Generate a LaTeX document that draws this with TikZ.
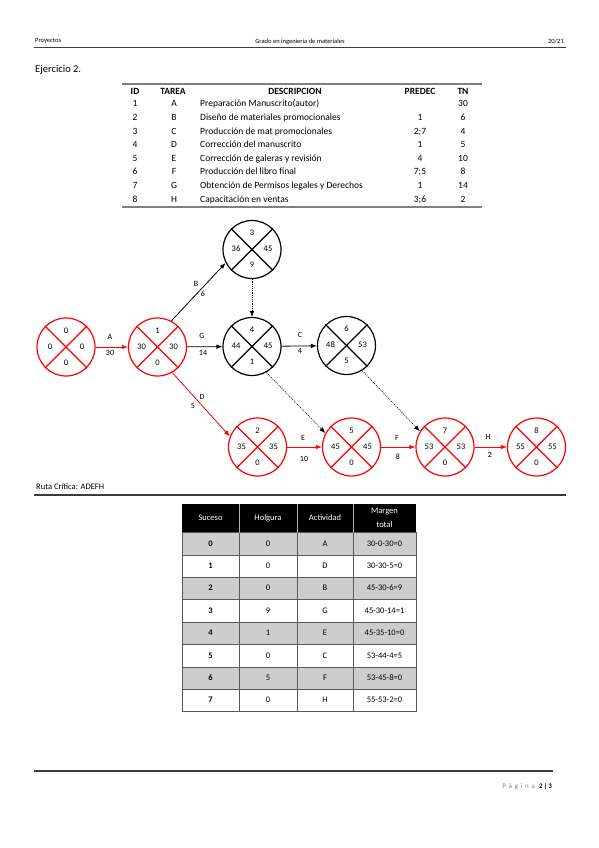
\documentclass[tikz,border=0pt]{standalone}
\usepackage{fontspec}
\setmainfont{Carlito}
\usetikzlibrary{arrows.meta}
\definecolor{ered}{RGB}{255,0,0}
\definecolor{rowgray}{RGB}{205,205,205}
\definecolor{rulegray}{RGB}{60,60,60}
\newcommand\evnode[8]{%
  \node[ev,draw=#4] (#1) at (#2,#3) {};
  \draw[#4,line width=1.2pt] (#1.45) -- (#1.225) (#1.135) -- (#1.315);
  \node[val] (#1t) at ([yshift=16pt]#1.center) {#5};
  \node[val] (#1l) at ([xshift=-16pt]#1.center) {#6};
  \node[val] (#1r) at ([xshift=16pt]#1.center) {#7};
  \node[val] (#1b) at ([yshift=-16pt]#1.center) {#8};
}
\begin{document}
\begin{tikzpicture}[x=1pt,y=-1pt,
  ev/.style={circle,line width=1.2pt,minimum size=58pt,inner sep=0pt},
  val/.style={font=\fontsize{8.5}{9}\selectfont,inner sep=0pt,anchor=mid},
  elab/.style={font=\fontsize{8}{9}\selectfont,inner sep=0pt,anchor=mid},
  act/.style={line width=0.8pt,-{Latex[length=6pt,width=4.5pt]}},
  dum/.style={line width=0.5pt,dash pattern=on 1.2pt off 1pt,-{Latex[length=6pt,width=4.5pt]}},
  ttext/.style={font=\fontsize{9.5}{11}\selectfont,inner sep=0pt,anchor=mid},
  thead/.style={font=\bfseries\fontsize{9.5}{11}\selectfont,inner sep=0pt,anchor=mid},
  btext/.style={font=\fontsize{8.5}{10}\selectfont,inner sep=0pt,anchor=mid},
  hdtext/.style={font=\fontsize{6.5}{8}\selectfont,inner sep=0pt,anchor=mid}
]
\useasboundingbox[fill=white] (0,0) rectangle (599,848);

% ---------- page header ----------
\node[hdtext,anchor=west] (hproj) at (35,41) {Proyectos};
\node[hdtext] (hgrado) at (300,41) {Grado en ingeniería de materiales};
\node[hdtext,anchor=east] (hyear) at (564,41) {20/21};
\coordinate (hl1) at (34,47.5);
\coordinate (hl2) at (566,47.5);
\draw[line width=1.6pt,rulegray] (hl1) -- (hl2);

\node[font=\fontsize{10.5}{12}\selectfont,inner sep=0pt,anchor=west] (ejer) at (35,70) {Ejercicio 2.};

% ---------- top table ----------
\coordinate (tr1) at (122,84);
\coordinate (tr2) at (482,84);
\coordinate (br1) at (122,207);
\coordinate (br2) at (482,207);
\draw[line width=1.3pt,gray] (tr1) -- (tr2);
\draw[line width=1.3pt,gray] (br1) -- (br2);
\node[thead] (hid) at (135,92) {ID};
\node[thead] (hta) at (173,92) {TAREA};
\node[thead] (hde) at (295,92) {DESCRIPCION};
\node[thead] (hpr) at (420,92) {PREDEC};
\node[thead] (htn) at (463,92) {TN};
\foreach \id/\ta/\de/\pr/\tn [count=\i from 0] in {
  1/A/{Preparación Manuscrito(autor)}/{}/30,
  2/B/{Diseño de materiales promocionales}/1/6,
  3/C/{Producción de mat promocionales}/{2;7}/4,
  4/D/{Corrección del manuscrito}/1/5,
  5/E/{Corrección de galeras y revisión}/4/10,
  6/F/{Producción del libro final}/{7;5}/8,
  7/G/{Obtención de Permisos legales y Derechos}/1/14,
  8/H/{Capacitación en ventas}/{3;6}/2}{
  \pgfmathsetmacro\yy{104.5+\i*13.6}
  \node[ttext] (tid\i) at (135,\yy) {\id};
  \node[ttext] (tta\i) at (174,\yy) {\ta};
  \node[ttext,anchor=mid west] (tde\i) at (200,\yy) {\de};
  \node[ttext] (tpr\i) at (420,\yy) {\pr};
  \node[ttext] (ttn\i) at (463,\yy) {\tn};
}

% ---------- network ----------
\evnode{n0}{66}{347}{ered}{0}{0}{0}{0}
\evnode{n1}{157.5}{347}{ered}{1}{30}{30}{0}
\evnode{n3}{252}{249.5}{black}{3}{36}{45}{9}
\evnode{n4}{252}{346.5}{black}{4}{44}{45}{1}
\evnode{n6}{346.5}{345.5}{black}{6}{48}{53}{5}
\evnode{n2}{257.5}{447}{ered}{2}{35}{35}{0}
\evnode{n5}{351.5}{447}{ered}{5}{45}{45}{0}
\evnode{n7}{445}{447}{ered}{7}{53}{53}{0}
\evnode{n8}{536.5}{447}{ered}{8}{55}{55}{0}

% activities
\draw[act,ered] (n0) -- (n1);
\node[elab] (lA) at (110,337) {A};
\node[elab] (lA2) at (110,353) {30};

\draw[act] (n1.62) -- (n3.207);
\node[elab] (lB) at (196,284) {B};
\node[elab] (lB2) at (203,294) {6};

\draw[act] (n1) -- (n4);
\node[elab] (lG) at (202,336) {G};
\node[elab] (lG2) at (203,353) {14};

\draw[act] (n4) -- (n6);
\node[elab] (lC) at (300,335) {C};
\node[elab] (lC2) at (300,351) {4};

\draw[act,ered] (n1.-60) -- (n2.159);
\node[elab] (lD) at (202,397) {D};
\node[elab] (lD2) at (193,406) {5};

\draw[act,ered] (n2) -- (n5);
\node[elab] (lE) at (303,438) {E};
\node[elab] (lE2) at (304,459) {10};

\draw[act,ered] (n5) -- (n7);
\node[elab] (lF) at (397,438) {F};
\node[elab] (lF2) at (398,457) {8};

\draw[act,ered] (n7) -- (n8);
\node[elab] (lH) at (488,437) {H};
\node[elab] (lH2) at (490,455) {2};

% dummies
\draw[dum] (n3) -- (n4);
\draw[dum] (n4.-61) -- (n5.152);
\draw[dum] (n6.-58) -- (n7.148);

% ---------- critical path ----------
\node[font=\fontsize{8.5}{10}\selectfont,inner sep=0pt,anchor=mid west] (ruta) at (36,487) {Ruta Crítica: ADEFH};
\coordinate (rl1) at (34,494.5);
\coordinate (rl2) at (566,494.5);
\draw[line width=2pt,rulegray] (rl1) -- (rl2);

% ---------- bottom table ----------
\fill[black] (182,504) rectangle (416,532.5);
\node[btext,text=white] (bh1) at (210.5,518.5) {Suceso};
\node[btext,text=white] (bh2) at (268,518.5) {Holgura};
\node[btext,text=white] (bh3) at (325,518.5) {Actividad};
\node[btext,text=white] (bh4a) at (384.5,511.5) {Margen};
\node[btext,text=white] (bh4b) at (384.5,525.5) {total};
\foreach \s/\h/\a/\m [count=\i from 0] in {
  0/0/A/30-0-30=0, 1/0/D/30-30-5=0, 2/0/B/45-30-6=9, 3/9/G/45-30-14=1,
  4/1/E/45-35-10=0, 5/0/C/53-44-4=5, 6/5/F/53-45-8=0, 7/0/H/55-53-2=0}{
  \pgfmathsetmacro\yt{532.5+\i*22.4}
  \pgfmathsetmacro\yc{\yt+11.2}
  \pgfmathtruncatemacro\odd{mod(\i,2)}
  \ifnum\odd=0 \fill[rowgray] (182,\yt) rectangle (416,\yt+22.4); \fi
  \node[btext,font=\bfseries\fontsize{8.5}{10}\selectfont] (bs\i) at (210.5,\yc) {\s};
  \node[btext] (bg\i) at (268,\yc) {\h};
  \node[btext] (ba\i) at (325,\yc) {\a};
  \node[btext] (bm\i) at (384.5,\yc) {\m};
}
\draw[line width=0.5pt,gray!70!black] (182,532.5) rectangle (416,711.7);
\foreach \i in {1,...,7}{
  \draw[line width=0.5pt,gray!70!black] (182,532.5+\i*22.4) -- (416,532.5+\i*22.4);
}
\foreach \x in {239,297,353}{
  \draw[line width=0.5pt,gray!70!black] (\x,532.5) -- (\x,711.7);
  \draw[line width=0.4pt,gray!60] (\x,504) -- (\x,532.5);
}

% ---------- footer ----------
\coordinate (fl1) at (34,771);
\coordinate (fl2) at (553,771);
\draw[line width=2.2pt,rulegray] (fl1) -- (fl2);
\node[font=\fontsize{7}{8}\selectfont,inner sep=0pt,anchor=mid east] (pag) at (552,786)
  {{\color{gray}\addfontfeatures{LetterSpace=40}Página}\hspace{4pt}\textbf{2\,|\,3}};
\end{tikzpicture}
\end{document}
